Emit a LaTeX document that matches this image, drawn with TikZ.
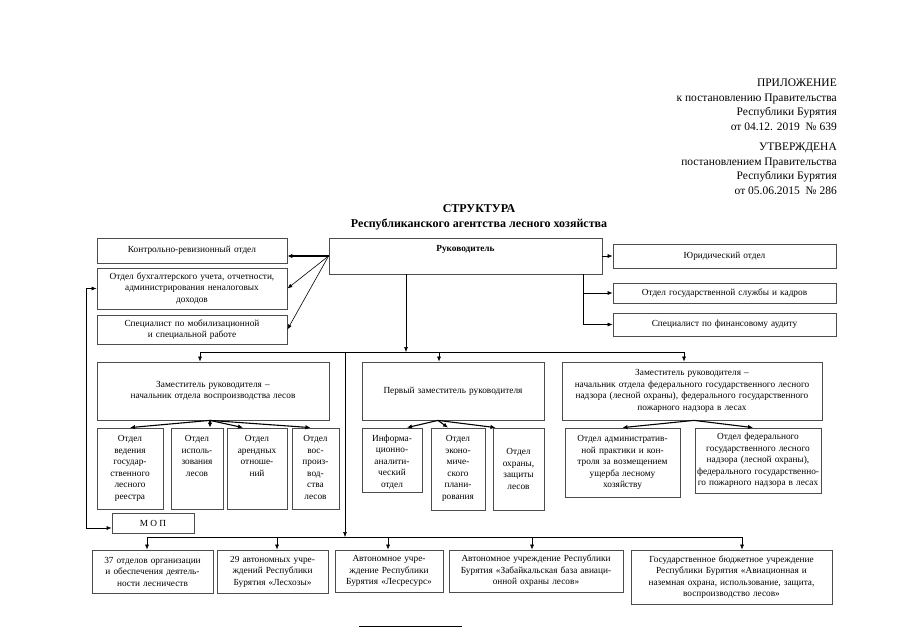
\documentclass[tikz,border=0pt]{standalone}
\usepackage{fontspec}
\setmainfont{Liberation Serif}
\usetikzlibrary{arrows.meta}

\begin{document}
\begin{tikzpicture}[
    x=1pt,y=-1pt,
    every node/.style={font=\fontsize{9.3}{11.5}\selectfont},
    dept/.style={rectangle,draw=black!70,line width=0.8pt,inner sep=2pt,align=center},
    headtext/.style={font=\fontsize{11.5}{14.5}\selectfont,align=right,inner sep=0pt,anchor=north east},
    link/.style={-{Latex[length=5pt,width=4pt]},line width=0.6pt},
    boldlink/.style={-{Latex[length=5pt,width=4.5pt]},line width=1.1pt},
    busline/.style={line width=0.6pt},
]
\useasboundingbox (0,0) rectangle (905,640);
% header
\node[headtext] (appx) at (837,79) {ПРИЛОЖЕНИЕ\\ к постановлению Правительства\\ Республики Бурятия\\ от 04.12. 2019\ \ №~639};
\node[headtext] (apprv) at (837,143) {УТВЕРЖДЕНА\\ постановлением Правительства\\ Республики Бурятия\\ от 05.06.2015\ \ №~286};
\node[font=\fontsize{12}{15}\selectfont\bfseries,align=center,inner sep=0pt,anchor=north] (title) at (479,204)
  {СТРУКТУРА\\ Республиканского агентства лесного хозяйства};
% head and staff units
\node[dept,minimum width=273,minimum height=36] (head) at (465.5,256) {};
\node[font=\fontsize{9.3}{11.5}\selectfont\bfseries,anchor=north,inner sep=0pt] (headname) at ([yshift=-8pt]head.north) {Руководитель};
\node[dept,minimum width=190,minimum height=25,text width=184] (ctrl) at (192,250.5) {Контрольно-ревизионный отдел};
\node[dept,minimum width=190,minimum height=41,text width=184] (acc) at (192,288.5) {Отдел бухгалтерского учета, отчетности,\\ администрирования неналоговых\\ доходов};
\node[dept,minimum width=190,minimum height=29,text width=184] (mob) at (192,329.5) {Специалист по мобилизационной\\ и специальной работе};
\node[dept,minimum width=223,minimum height=24,text width=217] (law) at (724.5,256) {Юридический отдел};
\node[dept,minimum width=223,minimum height=20,text width=217] (staff) at (724.5,293) {Отдел государственной службы и кадров};
\node[dept,minimum width=223,minimum height=23,text width=217] (audit) at (724.5,324.5) {Специалист по финансовому аудиту};
% deputies
\node[dept,minimum width=232,minimum height=58,text width=226] (dep1) at (213,391) {Заместитель руководителя –\\ начальник отдела воспроизводства лесов};
\node[dept,minimum width=182,minimum height=58,text width=176] (dep2) at (453,391) {Первый заместитель руководителя};
\node[dept,minimum width=260,minimum height=58,text width=254] (dep3) at (692,391) {Заместитель руководителя –\\ начальник отдела федерального государственного лесного\\ надзора (лесной охраны), федерального государственного\\ пожарного надзора в лесах};
% departments
\node[dept,minimum width=66,minimum height=81] (reg) at (130,468.5) {\parbox[c][66pt][t]{62pt}{\centering Отдел\\ ведения\\ государ-\\ ственного\\ лесного\\ реестра}};
\node[dept,minimum width=52,minimum height=81] (use) at (197,468.5) {\parbox[c][66pt][t]{48pt}{\centering Отдел\\ исполь-\\ зования\\ лесов}};
\node[dept,minimum width=60,minimum height=81] (lease) at (257,468.5) {\parbox[c][66pt][t]{56pt}{\centering Отдел\\ арендных\\ отноше-\\ ний}};
\node[dept,minimum width=47,minimum height=81] (repr) at (315.5,468.5) {\parbox[c][66pt][t]{43pt}{\centering Отдел\\ вос-\\ произ-\\ вод-\\ ства\\ лесов}};
\node[dept,minimum width=60,minimum height=64] (info) at (392,460) {\parbox[c][50pt][t]{56pt}{\centering Информа-\\ ционно-\\ аналити-\\ ческий\\ отдел}};
\node[dept,minimum width=54,minimum height=82] (econ) at (458,469) {\parbox[c][67pt][t]{50pt}{\centering Отдел\\ эконо-\\ миче-\\ ского\\ плани-\\ рования}};
\node[dept,minimum width=51,minimum height=82,text width=47] (prot) at (518.5,469) {Отдел\\ охраны,\\ защиты\\ лесов};
\node[dept,minimum width=115,minimum height=69,text width=111] (admin) at (622.5,462.5) {Отдел административ-\\ ной практики и кон-\\ троля за возмещением\\ ущерба лесному\\ хозяйству};
\node[dept,minimum width=126,minimum height=65,text width=122] (fed) at (758,460.5) {Отдел федерального\\ государственного лесного\\ надзора (лесной охраны),\\ федерального государственно-\\ го пожарного надзора в лесах};
\node[dept,minimum width=82,minimum height=20] (mop) at (153,523) {М О П};
% subordinate institutions
\node[dept,minimum width=121,minimum height=43,text width=115] (frst) at (152.5,571.5) {37 отделов организации\\ и обеспечения деятель-\\ ности лесничеств};
\node[dept,minimum width=111,minimum height=43,text width=105] (lesh) at (272.5,571.5) {29 автономных учре-\\ ждений Республики\\ Бурятия «Лесхозы»};
\node[dept,minimum width=108,minimum height=42,text width=102] (lesr) at (389,571) {Автономное учре-\\ ждение Республики\\ Бурятия «Лесресурс»};
\node[dept,minimum width=174,minimum height=42,text width=168] (avia) at (536,571) {Автономное учреждение Республики\\ Бурятия «Забайкальская база авиаци-\\ онной охраны лесов»};
\node[dept,minimum width=201,minimum height=54,text width=195] (gbu) at (731.5,577) {Государственное бюджетное учреждение\\ Республики Бурятия «Авиационная и\\ наземная охрана, использование, защита,\\ воспроизводство лесов»};
% bus points
\coordinate (busL) at (200,352);
\coordinate (busT) at (345,352);
\coordinate (busA) at (406,352);
\coordinate (busB) at (439,352);
\coordinate (busR) at (684,352);
\coordinate (lowT) at (345,537);
\coordinate (low1) at (147,537);
\coordinate (low2) at (277,537);
\coordinate (low3) at (388,537);
\coordinate (low4) at (532,537);
\coordinate (low5) at (742,537);
% head links
\draw[boldlink] (head.west) -- (head.west -| ctrl.east);
\draw[link] (head.west) -- (acc.east);
\draw[link] (head.west) -- (mob.east);
\draw[link] (head.east) -- (law.west);
\draw[link] ([xshift=-19pt]head.south east) |- (staff.west);
\draw[link] ([xshift=-19pt]head.south east) |- (audit.west);
\draw[link] (head.south -| busA) -- (busA);
\draw[busline] (busL) -- (busR);
\draw[link] (busL) -- (busL |- dep1.north);
\draw[link] (busB) -- (busB |- dep2.north);
\draw[link] (busR) -- (busR |- dep3.north);
% deputy links
\draw[boldlink] ([xshift=-3pt]dep1.south) -- (reg.north);
\draw[boldlink] ([xshift=-3pt]dep1.south) -- ([xshift=13pt]use.north);
\draw[boldlink] ([xshift=-3pt]dep1.south) -- ([xshift=-14pt]lease.north);
\draw[boldlink] ([xshift=-3pt]dep1.south) -- ([xshift=-5pt]repr.north);
\draw[boldlink] ([xshift=-15pt]dep2.south) -- ([xshift=15pt]info.north);
\draw[boldlink] ([xshift=-15pt]dep2.south) -- ([xshift=-10pt]econ.north);
\draw[boldlink] ([xshift=-15pt]dep2.south) -- ([xshift=-23pt]prot.north);
\draw[boldlink] ([xshift=2pt]dep3.south) -- (admin.north);
\draw[boldlink] ([xshift=2pt]dep3.south) -- ([xshift=-5pt]fed.north);
% accounting and maintenance staff
\draw[{Latex[length=5pt,width=4pt]}-{Latex[length=5pt,width=4pt]},line width=0.6pt] (acc.west) -- ++(-10,0) |- ([yshift=-5pt]mop.west);
% institutions
\draw[link] (busT) -- (lowT);
\draw[busline] (low1) -- (low5);
\draw[link] (low1) -- (low1 |- frst.north);
\draw[link] (low2) -- (low2 |- lesh.north);
\draw[link] (low3) -- (low3 |- lesr.north);
\draw[link] (low4) -- (low4 |- avia.north);
\draw[link] (low5) -- (low5 |- gbu.north);
\draw[line width=0.6pt] (359,626) -- (462,626);
\end{tikzpicture}
\end{document}
